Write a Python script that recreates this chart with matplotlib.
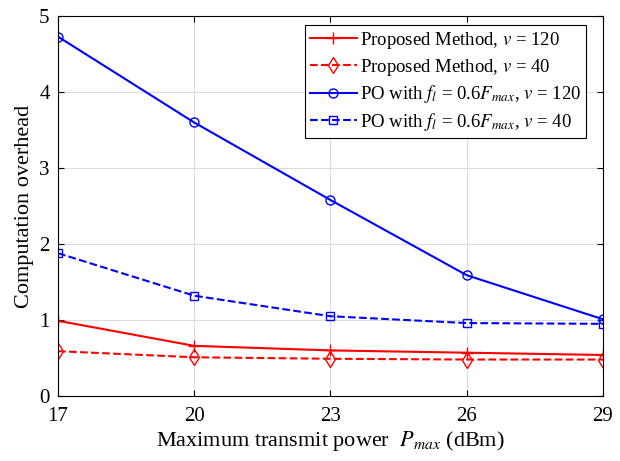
import numpy as np
import matplotlib
matplotlib.use("Agg")
import matplotlib.pyplot as plt

# -----------------------------
# Data
# -----------------------------
p_max = [17, 20, 23, 26, 29]
prop_v120 = [0.99, 0.66, 0.60, 0.57, 0.54]
prop_v40 = [0.59, 0.51, 0.49, 0.48, 0.48]
po_v120 = [4.73, 3.60, 2.58, 1.59, 1.01]
po_v40 = [1.88, 1.32, 1.05, 0.96, 0.95]

plt.rcParams["font.family"] = ["Liberation Serif", "DejaVu Serif"]
plt.rcParams["mathtext.fontset"] = "stix"

fig = plt.figure(figsize=(6.2, 4.61), dpi=100)
ax = fig.add_axes([0.0935, 0.141, 0.879, 0.824])

ax.plot(p_max, prop_v120, color="red", linestyle="-", marker="+", markersize=9,
        linewidth=1.5, label=r"Proposed Method, $v$ = 120")
ax.plot(p_max, prop_v40, color="red", linestyle="--", marker="d", markersize=8,
        markerfacecolor="none", linewidth=1.5, label=r"Proposed Method, $v$ = 40")
ax.plot(p_max, po_v120, color="blue", linestyle="-", marker="o", markersize=6.5,
        markerfacecolor="none", linewidth=1.5,
        label=r"PO with $f_l$ = 0.6$F_{max}$, $v$ = 120")
ax.plot(p_max, po_v40, color="blue", linestyle="--", marker="s", markersize=6,
        markerfacecolor="none", linewidth=1.5,
        label=r"PO with $f_l$ = 0.6$F_{max}$, $v$ = 40")

ax.set_xlim(17, 29)
ax.set_ylim(0, 5)
ax.set_xticks(p_max)
ax.set_yticks([0, 1, 2, 3, 4, 5])
ax.tick_params(direction="in", labelsize=15, top=True, right=True, length=4)
ax.tick_params(axis="x", pad=8)
ax.tick_params(axis="y", pad=6)
ax.grid(True, color="#dddddd", linewidth=0.8)
for s in ax.spines.values():
    s.set_linewidth(0.8)

ax.set_xlabel(r"Maximum transmit power  $P_{max}$ (dBm)", fontsize=16, labelpad=2)
ax.set_ylabel("Computation overhead", fontsize=16, labelpad=4)

leg = ax.legend(loc="upper right", bbox_to_anchor=(0.969, 0.976), fontsize=13.5,
                fancybox=False, framealpha=1, edgecolor="black", borderpad=0.25,
                labelspacing=0.3, handlelength=2.5, handletextpad=0.2,
                borderaxespad=0)
leg.get_frame().set_linewidth(0.8)

fig.savefig("out.png", dpi=100)
